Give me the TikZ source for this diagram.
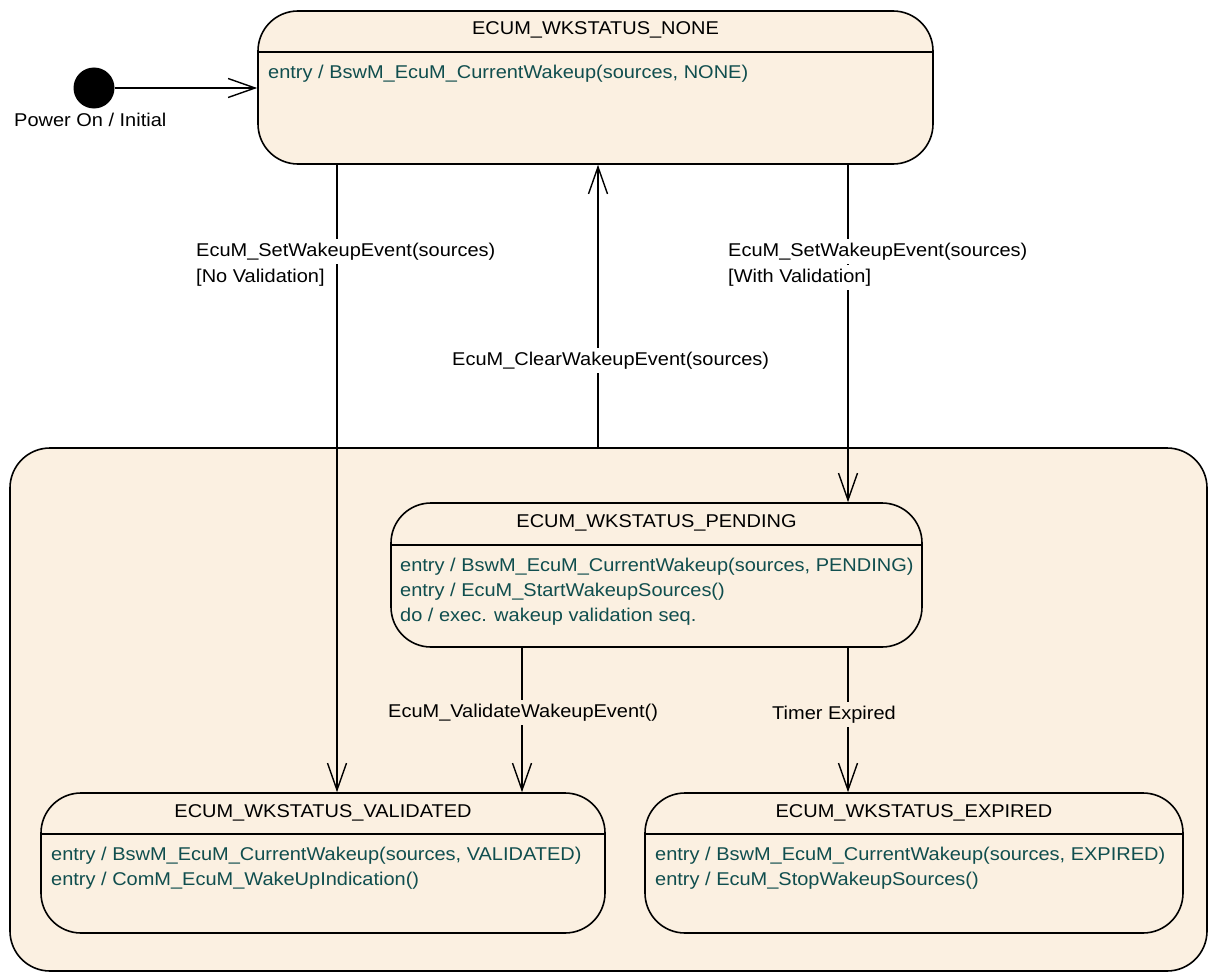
\documentclass[tikz,border=0pt]{standalone}
\usepackage{fontspec}
\setmainfont{Liberation Sans}[FakeStretch=1.08]
\usetikzlibrary{arrows.meta}
\definecolor{statefill}{RGB}{251,240,225}
\definecolor{acttext}{RGB}{16,78,78}
\begin{document}
\begin{tikzpicture}[x=1pt,y=-1pt,
  every node/.style={font=\fontsize{18.5pt}{25pt}\selectfont, inner sep=0pt},
  statebox/.style={draw, line width=1.6pt, fill=statefill, rounded corners=40pt, rectangle},
  divider/.style={line width=1.3pt},
  trans/.style={line width=1.4pt, -{Straight Barb[length=27pt,width=19pt]}},
  title/.style={anchor=base},
  act/.style={anchor=base west, text=acttext},
  lbl/.style={anchor=base west, fill=white, inner xsep=1pt, inner ysep=4pt},
  lblin/.style={lbl, fill=statefill},
]
\useasboundingbox (0,0) rectangle (1208,974);

% composite state holding the wakeup validation states
\node[statebox, minimum width=1197pt, minimum height=523pt] (outer) at (608.5,709.5) {};

% ECUM_WKSTATUS_NONE
\node[statebox, minimum width=675pt, minimum height=153pt] (none) at (595.5,87.5) {};
\draw[divider] (none.west |- 0,52) -- (none.east |- 0,52);
\node[title] (noneT) at (595.5,35) {ECUM\_WKSTATUS\_NONE};
\node[act] (noneA) at (268,78) {entry / BswM\_EcuM\_CurrentWakeup(sources, NONE)};

% ECUM_WKSTATUS_PENDING
\node[statebox, minimum width=531pt, minimum height=144pt] (pending) at (656.5,575) {};
\draw[divider] (pending.west |- 0,545) -- (pending.east |- 0,545);
\node[title] (pendT) at (656.5,527) {ECUM\_WKSTATUS\_PENDING};
\node[act] (pendA1) at (400,571) {entry / BswM\_EcuM\_CurrentWakeup(sources, PENDING)};
\node[act] (pendA2) at (400,596) {entry / EcuM\_StartWakeupSources()};
\node[act] (pendA3) at (400,621) {do / exec. wakeup validation seq.};

% ECUM_WKSTATUS_VALIDATED
\node[statebox, minimum width=564pt, minimum height=140pt] (validated) at (323,863) {};
\draw[divider] (validated.west |- 0,834) -- (validated.east |- 0,834);
\node[title] (valT) at (323,817) {ECUM\_WKSTATUS\_VALIDATED};
\node[act] (valA1) at (51,860) {entry / BswM\_EcuM\_CurrentWakeup(sources, VALIDATED)};
\node[act] (valA2) at (51,885) {entry / ComM\_EcuM\_WakeUpIndication()};

% ECUM_WKSTATUS_EXPIRED
\node[statebox, minimum width=538pt, minimum height=140pt] (expired) at (914,863) {};
\draw[divider] (expired.west |- 0,834) -- (expired.east |- 0,834);
\node[title] (expT) at (914,817) {ECUM\_WKSTATUS\_EXPIRED};
\node[act] (expA1) at (655,860) {entry / BswM\_EcuM\_CurrentWakeup(sources, EXPIRED)};
\node[act] (expA2) at (655,885) {entry / EcuM\_StopWakeupSources()};

% initial pseudo state
\node[circle, fill=black, minimum size=41pt] (init) at (94,88) {};
\node[anchor=base west] (initL) at (14,126) {Power On / Initial};

% x positions of the vertical transitions
\coordinate (xNoVal) at (337,0);
\coordinate (xClear) at (598,0);
\coordinate (xWith) at (848,0);
\coordinate (xValid) at (522,0);

% transitions
\draw[trans] (init) -- (none.west |- init);
\draw[trans] (none.south -| xNoVal) -- (validated.north -| xNoVal);
\draw[trans] (outer.north -| xClear) -- (none.south -| xClear);
\draw[trans] (none.south -| xWith) -- (pending.north -| xWith);
\draw[trans] (pending.south -| xValid) -- (validated.north -| xValid);
\draw[trans] (pending.south -| xWith) -- (expired.north -| xWith);

% transition labels
\node[lbl] (l1a) at (195,256) {EcuM\_SetWakeupEvent(sources)};
\node[lbl] (l1b) at (195,282) {[No Validation]};
\node[lbl] (l2a) at (727,256) {EcuM\_SetWakeupEvent(sources)};
\node[lbl] (l2b) at (727,282) {[With Validation]};
\node[lbl] (l3) at (451,365) {EcuM\_ClearWakeupEvent(sources)};
\node[lblin] (l4) at (387,717) {EcuM\_ValidateWakeupEvent()};
\node[lblin] (l5) at (771,719) {Timer Expired};
\end{tikzpicture}
\end{document}
